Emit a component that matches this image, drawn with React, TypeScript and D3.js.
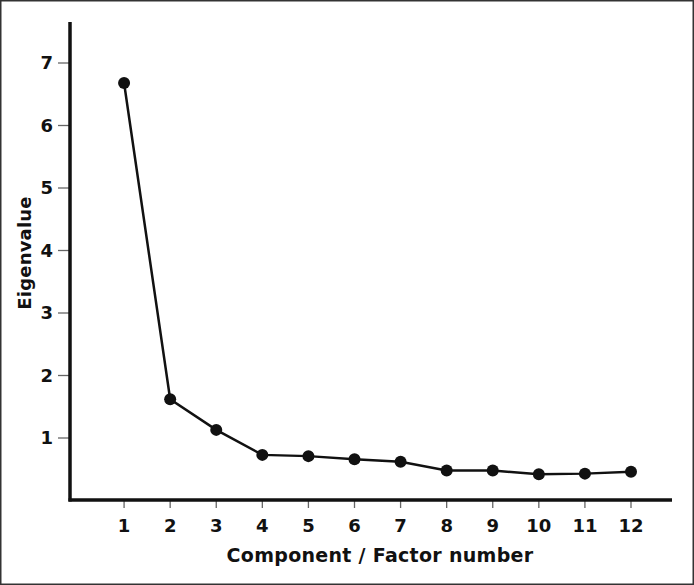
import React from "react";
import * as d3 from "d3";

const components = [1, 2, 3, 4, 5, 6, 7, 8, 9, 10, 11, 12];
const eigenvalues = [6.68, 1.62, 1.13, 0.73, 0.71, 0.66, 0.62, 0.48, 0.48, 0.42, 0.43, 0.46];
const yTicks = [1, 2, 3, 4, 5, 6, 7];

export default function App() {
  const W = 694, H = 585;
  const x = d3.scaleLinear().domain([0, 12]).range([78, 631]);
  const y = d3.scaleLinear().domain([0, 7]).range([500.5, 63]);
  const pts = components.map((c, i) => [x(c), y(eigenvalues[i])] as [number, number]);
  const line = d3.line()(pts) || "";
  const font = "Verdana, 'DejaVu Sans', sans-serif";
  return (
    <svg width={W} height={H} style={{ position: "absolute", left: 0, top: 0, background: "#fff" }}>
      <rect x={0.75} y={0.75} width={W - 1.5} height={H - 1.5} fill="#fff" stroke="#333" strokeWidth={1.5} />
      {/* y ticks */}
      {yTicks.map((t) => (
        <g key={t}>
          <line x1={58} x2={69} y1={y(t)} y2={y(t)} stroke="#666" strokeWidth={1.3} />
          <text x={53} y={y(t)} dy="0.36em" textAnchor="end" fontFamily={font} fontWeight="bold" fontSize={18} fill="#111">{t}</text>
        </g>
      ))}
      {/* x ticks */}
      {components.map((c) => (
        <g key={c}>
          <line x1={x(c)} x2={x(c)} y1={500} y2={508} stroke="#666" strokeWidth={1.3} />
          <text x={x(c)} y={532} textAnchor="middle" fontFamily={font} fontWeight="bold" fontSize={18} fill="#111">{c}</text>
        </g>
      ))}
      {/* axes */}
      <line x1={70} x2={70} y1={22} y2={501.5} stroke="#111" strokeWidth={3.5} />
      <line x1={68.5} x2={672} y1={500} y2={500} stroke="#111" strokeWidth={3.5} />
      {/* data */}
      <path d={line} fill="none" stroke="#111" strokeWidth={2.5} />
      {pts.map((p, i) => (
        <circle key={i} cx={p[0]} cy={p[1]} r={6} fill="#111" />
      ))}
      <text x={380} y={562} textAnchor="middle" fontFamily={font} fontWeight="bold" fontSize={19} letterSpacing={0.3} fill="#111">Component / Factor number</text>
      <text transform="translate(31,253) rotate(-90)" textAnchor="middle" fontFamily={font} fontWeight="bold" fontSize={18} letterSpacing={0.2} fill="#111">Eigenvalue</text>
    </svg>
  );
}
